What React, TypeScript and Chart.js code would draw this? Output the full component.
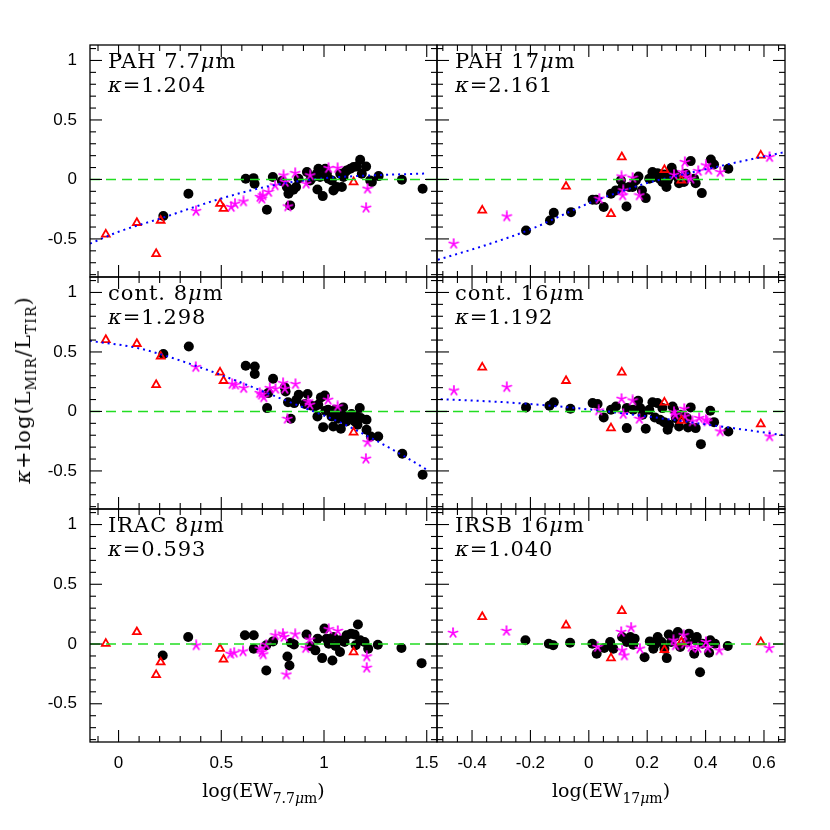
import React, { useEffect, useRef } from 'react';
import { Chart, registerables } from 'chart.js';

Chart.register(...registerables);

type Pt = [number, number];

// ---------- axes ----------
const xRangeEW77: Pt = [-0.139, 1.55];
const xRangeEW17: Pt = [-0.52, 0.672];
const yRange: Pt = [-0.82, 1.13];
const xTicksEW77 = [0, 0.5, 1, 1.5];
const xTicksEW17 = [-0.4, -0.2, 0, 0.2, 0.4, 0.6];
const yTicks = [-0.5, 0, 0.5, 1];

// ---------- triangles (x shared by each column) ----------
const triXEW77 = [-0.062, 0.089, 0.183, 0.205, 0.494, 0.511, 1.144];
const triXEW17 = [-0.365, -0.078, 0.076, 0.113, 0.259, 0.317, 0.589];

const pah77TriY = [-0.462, -0.364, -0.625, -0.345, -0.204, -0.246, -0.022];
const cont8TriY = [0.602, 0.569, 0.224, 0.462, 0.328, 0.258, -0.176];
const irac8TriY = [0.003, 0.101, -0.258, -0.152, -0.039, -0.129, -0.067];
const pah17TriY = [-0.26, -0.059, -0.289, 0.188, 0.081, -0.008, 0.202];
const cont16TriY = [0.37, 0.258, -0.14, 0.328, 0.076, -0.076, -0.106];
const irsb16TriY = [0.228, 0.157, -0.118, 0.278, -0.048, 0.017, 0.017];

// ---------- PAH 7.7 ----------
const pah77Circles: Pt[] = [[0.218,-0.308],[0.340,-0.120],[0.619,0.006],[0.657,0.011],[0.662,-0.036],[0.751,0.020],[0.722,-0.255],[0.795,-0.014],[0.819,-0.064],[0.827,-0.120],[0.835,-0.218],[0.851,-0.087],[0.864,-0.064],[0.876,0.006],[0.917,0.062],[0.933,-0.008],[0.949,0.020],[0.965,0.048],[0.973,0.090],[0.981,0.020],[0.968,-0.084],[0.994,-0.140],[1.006,0.090],[1.014,0.048],[1.022,0.006],[1.038,-0.008],[1.046,-0.092],[1.062,-0.064],[1.079,0.048],[1.087,-0.064],[1.095,0.020],[1.103,0.062],[1.111,0.076],[1.128,0.090],[1.144,0.104],[1.160,0.109],[1.176,0.165],[1.184,0.048],[1.205,0.109],[1.225,-0.008],[1.233,-0.022],[1.266,0.028],[1.379,-0.003],[1.480,-0.078]];
const pah77Stars: Pt[] = [[0.377,-0.266],[0.548,-0.232],[0.567,-0.204],[0.608,-0.185],[0.689,-0.148],[0.697,-0.162],[0.702,-0.134],[0.730,-0.106],[0.762,-0.050],[0.803,0.034],[0.811,-0.022],[0.824,-0.227],[0.860,0.053],[0.913,-0.036],[0.933,0.034],[1.022,0.095],[1.066,0.095],[1.212,-0.078],[1.205,-0.238]];
const pah77Fit: Pt[] = [[-0.139,-0.54],[0,-0.44],[0.2,-0.33],[0.5,-0.16],[0.75,-0.05],[1.0,0.01],[1.25,0.035],[1.5,0.05]];

// ---------- PAH 17 ----------
const pah17Circles: Pt[] = [[-0.215,-0.429],[-0.133,-0.345],[-0.120,-0.280],[-0.061,-0.275],[0.013,-0.171],[0.025,-0.171],[0.051,-0.232],[0.076,-0.120],[0.093,-0.092],[0.110,-0.008],[0.116,-0.064],[0.129,-0.227],[0.138,-0.064],[0.150,-0.064],[0.161,-0.008],[0.170,0.025],[0.182,-0.092],[0.195,-0.157],[0.207,0.006],[0.218,0.062],[0.224,0.020],[0.235,0.053],[0.243,0.006],[0.252,-0.022],[0.258,0.042],[0.266,-0.064],[0.270,-0.008],[0.275,0.020],[0.284,0.098],[0.292,0.048],[0.304,0.020],[0.309,-0.031],[0.326,-0.022],[0.332,0.048],[0.349,0.154],[0.361,0.006],[0.366,-0.031],[0.387,-0.115],[0.418,0.168],[0.429,0.126],[0.478,0.090]];
const pah17Stars: Pt[] = [[-0.463,-0.541],[-0.281,-0.311],[0.036,-0.162],[0.112,0.025],[0.118,-0.092],[0.116,-0.134],[0.150,0.014],[0.173,-0.134],[0.292,0.039],[0.321,0.062],[0.329,0.146],[0.332,0.020],[0.349,0.006],[0.375,0.070],[0.401,0.118],[0.410,0.081],[0.450,0.062],[0.619,0.188]];
const pah17Fit: Pt[] = [[-0.517,-0.675],[-0.35,-0.55],[-0.2,-0.42],[-0.1,-0.31],[0,-0.2],[0.1,-0.11],[0.2,-0.03],[0.3,0.03],[0.4,0.085],[0.5,0.14],[0.672,0.23]];

// ---------- cont. 8 ----------
const cont8Circles: Pt[] = [[0.218,0.482],[0.342,0.546],[0.619,0.384],[0.663,0.378],[0.663,0.314],[0.723,0.028],[0.752,0.275],[0.728,0.154],[0.809,0.202],[0.813,0.168],[0.825,0.078],[0.838,-0.062],[0.855,0.070],[0.866,0.098],[0.877,0.140],[0.907,0.062],[0.920,0.146],[0.936,0.050],[0.955,0.042],[0.972,0.056],[0.968,-0.042],[0.985,0.118],[1.004,0.134],[1.007,0.006],[0.996,-0.132],[1.020,0.014],[1.037,-0.042],[1.045,-0.126],[1.053,0.014],[1.069,-0.062],[1.077,0.000],[1.082,-0.146],[1.093,0.034],[1.101,-0.042],[1.109,-0.084],[1.117,-0.056],[1.134,-0.022],[1.150,-0.084],[1.163,-0.112],[1.174,0.028],[1.158,-0.042],[1.179,-0.056],[1.207,-0.070],[1.207,-0.154],[1.228,-0.210],[1.264,-0.210],[1.381,-0.356],[1.480,-0.532]];
const cont8Stars: Pt[] = [[0.376,0.373],[0.553,0.230],[0.569,0.224],[0.609,0.196],[0.687,0.154],[0.696,0.140],[0.707,0.118],[0.736,0.196],[0.764,0.190],[0.801,0.238],[0.809,0.190],[0.861,0.230],[0.822,-0.062],[0.923,0.084],[0.931,0.056],[1.020,0.098],[1.066,0.042],[1.212,-0.258],[1.204,-0.398]];
const cont8Fit: Pt[] = [[-0.14,0.594],[0.095,0.532],[0.338,0.406],[0.582,0.252],[0.744,0.14],[0.907,0.028],[1.069,-0.084],[1.231,-0.224],[1.394,-0.38],[1.5,-0.49]];

// ---------- cont. 16 ----------
const cont16Circles: Pt[] = [[-0.215,0.034],[-0.135,0.048],[-0.120,0.078],[-0.063,0.022],[0.013,0.070],[0.030,0.062],[0.051,-0.050],[0.076,0.014],[0.093,0.042],[0.130,0.028],[0.130,-0.140],[0.152,0.014],[0.169,0.090],[0.176,0.028],[0.184,-0.028],[0.195,-0.146],[0.207,0.014],[0.218,0.078],[0.226,-0.050],[0.235,0.070],[0.244,-0.070],[0.252,0.028],[0.258,-0.090],[0.270,-0.154],[0.275,-0.112],[0.287,0.042],[0.292,0.014],[0.298,-0.056],[0.309,-0.126],[0.315,-0.028],[0.336,-0.056],[0.340,-0.134],[0.349,0.034],[0.366,-0.140],[0.384,-0.275],[0.416,0.006],[0.429,-0.090],[0.478,-0.168]];
const cont16Stars: Pt[] = [[-0.462,0.176],[-0.281,0.204],[0.034,0.008],[0.112,0.106],[0.118,-0.022],[0.150,0.092],[0.173,-0.062],[0.292,-0.006],[0.296,-0.028],[0.327,0.022],[0.329,-0.042],[0.355,-0.084],[0.378,-0.056],[0.401,-0.070],[0.406,-0.084],[0.450,-0.168],[0.619,-0.210]];
const cont16Fit: Pt[] = [[-0.528,0.106],[-0.243,0.07],[0.042,0.006],[0.327,-0.084],[0.675,-0.202]];

// ---------- IRAC 8 ----------
const irac8Circles: Pt[] = [[0.215,-0.096],[0.339,0.059],[0.615,0.073],[0.658,0.073],[0.658,-0.039],[0.719,-0.222],[0.719,-0.011],[0.752,0.022],[0.822,-0.104],[0.832,-0.180],[0.839,0.011],[0.854,-0.003],[0.915,0.079],[0.932,-0.017],[0.958,-0.053],[0.969,0.045],[0.991,-0.118],[1.002,0.129],[1.013,0.045],[1.023,0.003],[1.041,-0.138],[1.045,0.059],[1.056,-0.017],[1.078,0.031],[1.078,-0.067],[1.100,0.017],[1.110,0.073],[1.132,0.087],[1.149,0.079],[1.165,0.163],[1.154,-0.011],[1.176,0.031],[1.197,0.017],[1.215,-0.039],[1.262,-0.006],[1.377,-0.034],[1.475,-0.160]];
const irac8Stars: Pt[] = [[0.378,-0.011],[0.545,-0.082],[0.563,-0.073],[0.606,-0.062],[0.687,-0.039],[0.698,-0.067],[0.704,-0.087],[0.719,-0.006],[0.763,0.073],[0.800,0.087],[0.806,0.059],[0.860,0.081],[0.911,-0.034],[0.930,0.037],[1.023,0.124],[1.067,0.110],[0.817,-0.256],[1.208,-0.104],[1.208,-0.199]];

// ---------- IRSB 16 ----------
const irsb16Circles: Pt[] = [[-0.217,0.031],[-0.137,0.003],[-0.122,-0.011],[-0.064,0.011],[0.012,0.003],[0.027,-0.081],[0.053,-0.034],[0.073,0.017],[0.084,-0.039],[0.114,0.059],[0.130,0.017],[0.142,0.059],[0.152,-0.006],[0.157,0.045],[0.191,-0.110],[0.209,0.022],[0.221,-0.039],[0.229,0.003],[0.236,0.059],[0.249,0.017],[0.259,-0.039],[0.267,-0.118],[0.274,0.079],[0.282,0.017],[0.294,0.059],[0.305,0.101],[0.313,-0.025],[0.335,0.017],[0.343,0.087],[0.361,-0.081],[0.366,0.031],[0.370,0.059],[0.381,-0.236],[0.389,0.003],[0.412,-0.073],[0.416,0.031],[0.432,0.003],[0.476,-0.017]];
const irsb16Stars: Pt[] = [[-0.465,0.093],[-0.282,0.110],[0.030,-0.025],[0.111,0.101],[0.114,-0.053],[0.122,-0.096],[0.145,0.138],[0.175,-0.039],[0.290,0.031],[0.297,-0.011],[0.325,0.073],[0.328,0.003],[0.351,-0.025],[0.374,-0.034],[0.401,0.017],[0.407,-0.034],[0.447,-0.053],[0.618,-0.034]];

interface PanelDef {
  name: string;
  kappa: string;
  col: number;
  row: number;
  circles: Pt[];
  stars: Pt[];
  triY: number[];
  fit: Pt[] | null;
}

const panels: PanelDef[] = [
  { name: 'PAH 7.7μm', kappa: '1.204', col: 0, row: 0, circles: pah77Circles, stars: pah77Stars, triY: pah77TriY, fit: pah77Fit },
  { name: 'PAH 17μm', kappa: '2.161', col: 1, row: 0, circles: pah17Circles, stars: pah17Stars, triY: pah17TriY, fit: pah17Fit },
  { name: 'cont. 8μm', kappa: '1.298', col: 0, row: 1, circles: cont8Circles, stars: cont8Stars, triY: cont8TriY, fit: cont8Fit },
  { name: 'cont. 16μm', kappa: '1.192', col: 1, row: 1, circles: cont16Circles, stars: cont16Stars, triY: cont16TriY, fit: cont16Fit },
  { name: 'IRAC 8μm', kappa: '0.593', col: 0, row: 2, circles: irac8Circles, stars: irac8Stars, triY: irac8TriY, fit: null },
  { name: 'IRSB 16μm', kappa: '1.040', col: 1, row: 2, circles: irsb16Circles, stars: irsb16Stars, triY: irsb16TriY, fit: null },
];

// ---------- layout (page pixels) ----------
const COL_L = [90, 437];
const COL_R = [437, 785];
const ROW_T = [45, 277, 509];
const ROW_B = [277, 509, 742];
const PAD = 12;
const SERIF = '"DejaVu Serif", serif';

function makeStar(): HTMLCanvasElement {
  const c = document.createElement('canvas');
  c.width = 12;
  c.height = 12;
  const g = c.getContext('2d')!;
  g.strokeStyle = '#ff00ff';
  g.lineWidth = 1.7;
  g.lineCap = 'round';
  for (let k = 0; k < 5; k++) {
    const ang = -Math.PI / 2 + (k * 2 * Math.PI) / 5;
    g.beginPath();
    g.moveTo(6, 6);
    g.lineTo(6 + 4.8 * Math.cos(ang), 6 + 4.8 * Math.sin(ang));
    g.stroke();
  }
  return c;
}

const fmt = (v: number) => String(Math.round(v * 10) / 10);

const decorPlugin = {
  id: 'decor',
  afterDraw(chart: any, _args: any, opts: any) {
    const { ctx, chartArea: a, scales } = chart;
    const xs = scales.x;
    const ys = scales.y;
    ctx.save();
    ctx.strokeStyle = '#000';
    ctx.lineWidth = 1.3;
    ctx.strokeRect(a.left, a.top, a.right - a.left, a.bottom - a.top);
    ctx.lineWidth = 1.1;
    const seg = (x1: number, y1: number, x2: number, y2: number) => {
      ctx.beginPath();
      ctx.moveTo(x1, y1);
      ctx.lineTo(x2, y2);
      ctx.stroke();
    };
    const steps = (min: number, max: number, step: number) => {
      const out: number[] = [];
      for (let k = Math.ceil(min / step - 1e-9); k * step <= max + 1e-9; k++) out.push(k * step);
      return out;
    };
    const isMajor = (v: number, s: number) => Math.abs(v / s - Math.round(v / s)) < 1e-6;
    for (const v of steps(xs.min, xs.max, opts.xMinor)) {
      const len = isMajor(v, opts.xMajor) ? 12 : 6;
      const p = xs.getPixelForValue(v);
      seg(p, a.bottom, p, a.bottom - len);
      seg(p, a.top, p, a.top + len);
    }
    for (const v of steps(ys.min, ys.max, 0.1)) {
      const len = isMajor(v, 0.5) ? 12 : 6;
      const p = ys.getPixelForValue(v);
      seg(a.left, p, a.left + len, p);
      seg(a.right, p, a.right - len, p);
    }
    // panel labels
    ctx.fillStyle = '#000';
    ctx.textBaseline = 'alphabetic';
    ctx.textAlign = 'left';
    try { ctx.letterSpacing = '1px'; } catch (e) { /* ignore */ }
    const fontN = `21px ${SERIF}`;
    const fontI = `italic 21px ${SERIF}`;
    let x = a.left + 18;
    let y = a.top + 23;
    const put = (t: string, italic: boolean) => {
      ctx.font = italic ? fontI : fontN;
      ctx.fillText(t, x, y);
      x += ctx.measureText(t).width;
    };
    const parts = String(opts.name).split('μ');
    put(parts[0], false);
    put('μ', true);
    put(parts[1], false);
    x = a.left + 18;
    y = a.top + 47;
    put('κ', true);
    put('=' + opts.kappa, false);
    ctx.restore();
  },
};

function Panel({ def }: { def: PanelDef }) {
  const ref = useRef<HTMLCanvasElement>(null);
  const { col, row } = def;
  const cl = col === 0 ? 0 : COL_L[col] - PAD;
  const cr = col === 0 ? COL_R[col] + PAD : 830;
  const ct = ROW_T[row] - PAD;
  const cb = row === 2 ? 830 : ROW_B[row] + PAD;
  const w = cr - cl;
  const h = cb - ct;

  useEffect(() => {
    const star = makeStar();
    const xRange = col === 0 ? xRangeEW77 : xRangeEW17;
    const xTicks = col === 0 ? xTicksEW77 : xTicksEW17;
    const triX = col === 0 ? triXEW77 : triXEW17;
    const showX = row === 2;
    const showY = col === 0;
    const datasets: any[] = [
      {
        label: 'zero',
        data: [{ x: xRange[0], y: 0 }, { x: xRange[1], y: 0 }],
        showLine: true,
        borderColor: '#22dd22',
        borderWidth: 1.6,
        borderDash: [10, 6],
        pointRadius: 0,
      },
    ];
    if (def.fit) {
      datasets.push({
        label: 'fit',
        data: def.fit.map(([x, y]) => ({ x, y })),
        showLine: true,
        borderColor: '#0000ff',
        borderWidth: 2,
        borderDash: [2, 4],
        pointRadius: 0,
        cubicInterpolationMode: 'monotone',
      });
    }
    datasets.push({
      label: 'triangles',
      data: triX.map((x, i) => ({ x, y: def.triY[i] })),
      pointStyle: 'triangle',
      pointRadius: 4.5,
      backgroundColor: 'rgba(0,0,0,0)',
      borderColor: '#ff0000',
      borderWidth: 1.8,
    });
    datasets.push({
      label: 'stars',
      data: def.stars.map(([x, y]) => ({ x, y })),
      pointStyle: star,
      pointRadius: 5,
    });
    datasets.push({
      label: 'circles',
      data: def.circles.map(([x, y]) => ({ x, y })),
      pointStyle: 'circle',
      pointRadius: 5,
      backgroundColor: '#000',
      borderColor: '#000',
      borderWidth: 0,
    });

    const chart = new Chart(ref.current!, {
      type: 'scatter',
      data: { datasets },
      plugins: [decorPlugin],
      options: {
        responsive: false,
        animation: false,
        devicePixelRatio: 1,
        events: [],
        layout: {
          autoPadding: false,
          padding: {
            left: showY ? 0 : PAD,
            right: cr - COL_R[col],
            top: PAD,
            bottom: showX ? 0 : PAD,
          },
        },
        plugins: {
          legend: { display: false },
          tooltip: { enabled: false },
          decor: { name: def.name, kappa: def.kappa, xMinor: col === 0 ? 0.1 : 0.05, xMajor: col === 0 ? 0.5 : 0.2 },
        } as any,
        scales: {
          x: {
            type: 'linear',
            min: xRange[0],
            max: xRange[1],
            display: showX,
            grid: { display: false, drawTicks: false },
            border: { display: false },
            ticks: {
              font: { family: 'Liberation Sans', size: 17 },
              color: '#000',
              padding: 11,
              maxRotation: 0,
              callback: (v: any) => fmt(Number(v)),
            },
            afterBuildTicks: (s: any) => {
              s.ticks = xTicks.map((v) => ({ value: v }));
            },
            afterFit: (s: any) => {
              s.height = showX ? 830 - ROW_B[2] : 0;
              s.paddingLeft = 0;
              s.paddingRight = 0;
            },
          },
          y: {
            type: 'linear',
            min: yRange[0],
            max: yRange[1],
            display: showY,
            grid: { display: false, drawTicks: false },
            border: { display: false },
            ticks: {
              font: { family: 'Liberation Sans', size: 17 },
              color: '#000',
              padding: 13,
              callback: (v: any) => fmt(Number(v)),
            },
            afterBuildTicks: (s: any) => {
              s.ticks = yTicks.map((v) => ({ value: v }));
            },
            afterFit: (s: any) => {
              s.width = showY ? COL_L[0] : 0;
              s.paddingTop = 0;
              s.paddingBottom = 0;
            },
          },
        },
      } as any,
    });
    return () => chart.destroy();
  }, []);

  return (
    <canvas
      ref={ref}
      width={w}
      height={h}
      style={{ position: 'absolute', left: cl, top: ct, width: w, height: h }}
    />
  );
}

const subStyle: React.CSSProperties = { fontSize: 14, verticalAlign: '-6px', lineHeight: 0 };

export default function App() {
  return (
    <div style={{ position: 'absolute', left: 0, top: 0, width: 830, height: 830, background: '#fff', overflow: 'hidden' }}>
      {panels.map((p) => (
        <Panel key={p.name} def={p} />
      ))}
      <div
        style={{
          position: 'absolute', left: (COL_L[0] + COL_R[0]) / 2, top: 780, transform: 'translateX(-50%)',
          fontFamily: SERIF, fontSize: 19, lineHeight: '20px', whiteSpace: 'nowrap', color: '#000',
        }}
      >
        log(EW<sub style={subStyle}>7.7<i>μ</i>m</sub>)
      </div>
      <div
        style={{
          position: 'absolute', left: (COL_L[1] + COL_R[1]) / 2, top: 780, transform: 'translateX(-50%)',
          fontFamily: SERIF, fontSize: 19, lineHeight: '20px', whiteSpace: 'nowrap', color: '#000',
        }}
      >
        log(EW<sub style={subStyle}>17<i>μ</i>m</sub>)
      </div>
      <div
        style={{
          position: 'absolute', left: 23, top: 390, transform: 'translate(-50%, -50%) rotate(-90deg)',
          fontFamily: SERIF, fontSize: 21, lineHeight: '24px', whiteSpace: 'nowrap', color: '#000', letterSpacing: '1px',
        }}
      >
        <i>κ</i>+log(L<sub style={subStyle}>MIR</sub>/L<sub style={subStyle}>TIR</sub>)
      </div>
    </div>
  );
}
